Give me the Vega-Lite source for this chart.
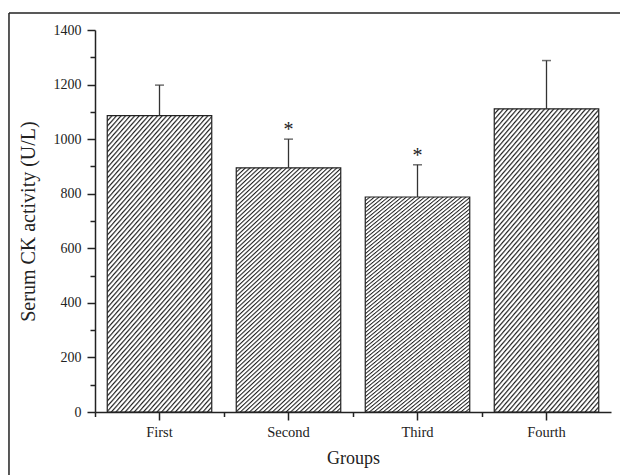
{
  "$schema": "https://vega.github.io/schema/vega-lite/v6.json",
  "width": 516,
  "height": 382,
  "autosize": {"type": "none"},
  "padding": {"left": 95, "top": 30, "right": 9, "bottom": 63},
  "background": "white",
  "config": {
    "view": {"stroke": null},
    "font": "Liberation Serif",
    "axis": {"zindex": 1, "grid": false, "labelFont": "Liberation Serif", "titleFont": "Liberation Serif", "titleFontWeight": "normal", "labelColor": "#222", "titleColor": "#222", "domainColor": "#222", "tickColor": "#222", "domainWidth": 1.5, "tickWidth": 1.5}
  },
  "layer": [
    {
      "data": {"values": [{}]},
      "layer": [
        {
          "mark": {"type": "rule", "color": "#222", "strokeWidth": 1.5},
          "encoding": {
            "x": {"datum": -0.1667, "type": "quantitative", "scale": {"domain": [0, 1], "nice": false, "zero": false}, "axis": null},
            "x2": {"datum": 1.3},
            "y": {"datum": 1.0445, "type": "quantitative", "scale": {"domain": [0, 1], "nice": false, "zero": false}, "axis": null}
          }
        },
        {
          "mark": {"type": "rule", "color": "#222", "strokeWidth": 1.5},
          "encoding": {
            "x": {"datum": -0.1667, "type": "quantitative", "scale": {"domain": [0, 1], "nice": false, "zero": false}, "axis": null},
            "y": {"datum": 1.0445, "type": "quantitative", "scale": {"domain": [0, 1], "nice": false, "zero": false}, "axis": null},
            "y2": {"datum": -0.4}
          }
        }
      ]
    },
    {
      "data": {"values": [
        {"group": "First", "mean": 1086, "upper": 1198, "sig": ""},
        {"group": "Second", "mean": 895, "upper": 1000, "sig": "*"},
        {"group": "Third", "mean": 788, "upper": 906, "sig": "*"},
        {"group": "Fourth", "mean": 1111, "upper": 1288, "sig": ""}
      ]},
      "layer": [
        {
          "mark": {
            "type": "bar",
            "width": {"band": 0.81},
            "stroke": "#222",
            "strokeWidth": 1.2,
            "fill": {
              "gradient": "linear", "x1": 0, "y1": 0, "x2": 0.483, "y2": 1.207,
              "stops": [
{"offset":0,"color":"#222"},{"offset":0.005,"color":"#fff"},{"offset":0.009,"color":"#fff"},{"offset":0.0125,"color":"#222"},{"offset":0.0175,"color":"#fff"},{"offset":0.0215,"color":"#fff"},{"offset":0.025,"color":"#222"},{"offset":0.03,"color":"#fff"},{"offset":0.034,"color":"#fff"},{"offset":0.0375,"color":"#222"},{"offset":0.0425,"color":"#fff"},{"offset":0.0465,"color":"#fff"},{"offset":0.05,"color":"#222"},{"offset":0.055,"color":"#fff"},{"offset":0.059,"color":"#fff"},{"offset":0.0625,"color":"#222"},{"offset":0.0675,"color":"#fff"},{"offset":0.0715,"color":"#fff"},{"offset":0.075,"color":"#222"},{"offset":0.08,"color":"#fff"},{"offset":0.084,"color":"#fff"},{"offset":0.0875,"color":"#222"},{"offset":0.0925,"color":"#fff"},{"offset":0.0965,"color":"#fff"},
{"offset":0.1,"color":"#222"},{"offset":0.105,"color":"#fff"},{"offset":0.109,"color":"#fff"},{"offset":0.1125,"color":"#222"},{"offset":0.1175,"color":"#fff"},{"offset":0.1215,"color":"#fff"},{"offset":0.125,"color":"#222"},{"offset":0.13,"color":"#fff"},{"offset":0.134,"color":"#fff"},{"offset":0.1375,"color":"#222"},{"offset":0.1425,"color":"#fff"},{"offset":0.1465,"color":"#fff"},{"offset":0.15,"color":"#222"},{"offset":0.155,"color":"#fff"},{"offset":0.159,"color":"#fff"},{"offset":0.1625,"color":"#222"},{"offset":0.1675,"color":"#fff"},{"offset":0.1715,"color":"#fff"},{"offset":0.175,"color":"#222"},{"offset":0.18,"color":"#fff"},{"offset":0.184,"color":"#fff"},{"offset":0.1875,"color":"#222"},{"offset":0.1925,"color":"#fff"},{"offset":0.1965,"color":"#fff"},
{"offset":0.2,"color":"#222"},{"offset":0.205,"color":"#fff"},{"offset":0.209,"color":"#fff"},{"offset":0.2125,"color":"#222"},{"offset":0.2175,"color":"#fff"},{"offset":0.2215,"color":"#fff"},{"offset":0.225,"color":"#222"},{"offset":0.23,"color":"#fff"},{"offset":0.234,"color":"#fff"},{"offset":0.2375,"color":"#222"},{"offset":0.2425,"color":"#fff"},{"offset":0.2465,"color":"#fff"},{"offset":0.25,"color":"#222"},{"offset":0.255,"color":"#fff"},{"offset":0.259,"color":"#fff"},{"offset":0.2625,"color":"#222"},{"offset":0.2675,"color":"#fff"},{"offset":0.2715,"color":"#fff"},{"offset":0.275,"color":"#222"},{"offset":0.28,"color":"#fff"},{"offset":0.284,"color":"#fff"},{"offset":0.2875,"color":"#222"},{"offset":0.2925,"color":"#fff"},{"offset":0.2965,"color":"#fff"},
{"offset":0.3,"color":"#222"},{"offset":0.305,"color":"#fff"},{"offset":0.309,"color":"#fff"},{"offset":0.3125,"color":"#222"},{"offset":0.3175,"color":"#fff"},{"offset":0.3215,"color":"#fff"},{"offset":0.325,"color":"#222"},{"offset":0.33,"color":"#fff"},{"offset":0.334,"color":"#fff"},{"offset":0.3375,"color":"#222"},{"offset":0.3425,"color":"#fff"},{"offset":0.3465,"color":"#fff"},{"offset":0.35,"color":"#222"},{"offset":0.355,"color":"#fff"},{"offset":0.359,"color":"#fff"},{"offset":0.3625,"color":"#222"},{"offset":0.3675,"color":"#fff"},{"offset":0.3715,"color":"#fff"},{"offset":0.375,"color":"#222"},{"offset":0.38,"color":"#fff"},{"offset":0.384,"color":"#fff"},{"offset":0.3875,"color":"#222"},{"offset":0.3925,"color":"#fff"},{"offset":0.3965,"color":"#fff"},
{"offset":0.4,"color":"#222"},{"offset":0.405,"color":"#fff"},{"offset":0.409,"color":"#fff"},{"offset":0.4125,"color":"#222"},{"offset":0.4175,"color":"#fff"},{"offset":0.4215,"color":"#fff"},{"offset":0.425,"color":"#222"},{"offset":0.43,"color":"#fff"},{"offset":0.434,"color":"#fff"},{"offset":0.4375,"color":"#222"},{"offset":0.4425,"color":"#fff"},{"offset":0.4465,"color":"#fff"},{"offset":0.45,"color":"#222"},{"offset":0.455,"color":"#fff"},{"offset":0.459,"color":"#fff"},{"offset":0.4625,"color":"#222"},{"offset":0.4675,"color":"#fff"},{"offset":0.4715,"color":"#fff"},{"offset":0.475,"color":"#222"},{"offset":0.48,"color":"#fff"},{"offset":0.484,"color":"#fff"},{"offset":0.4875,"color":"#222"},{"offset":0.4925,"color":"#fff"},{"offset":0.4965,"color":"#fff"},
{"offset":0.5,"color":"#222"},{"offset":0.505,"color":"#fff"},{"offset":0.509,"color":"#fff"},{"offset":0.5125,"color":"#222"},{"offset":0.5175,"color":"#fff"},{"offset":0.5215,"color":"#fff"},{"offset":0.525,"color":"#222"},{"offset":0.53,"color":"#fff"},{"offset":0.534,"color":"#fff"},{"offset":0.5375,"color":"#222"},{"offset":0.5425,"color":"#fff"},{"offset":0.5465,"color":"#fff"},{"offset":0.55,"color":"#222"},{"offset":0.555,"color":"#fff"},{"offset":0.559,"color":"#fff"},{"offset":0.5625,"color":"#222"},{"offset":0.5675,"color":"#fff"},{"offset":0.5715,"color":"#fff"},{"offset":0.575,"color":"#222"},{"offset":0.58,"color":"#fff"},{"offset":0.584,"color":"#fff"},{"offset":0.5875,"color":"#222"},{"offset":0.5925,"color":"#fff"},{"offset":0.5965,"color":"#fff"},
{"offset":0.6,"color":"#222"},{"offset":0.605,"color":"#fff"},{"offset":0.609,"color":"#fff"},{"offset":0.6125,"color":"#222"},{"offset":0.6175,"color":"#fff"},{"offset":0.6215,"color":"#fff"},{"offset":0.625,"color":"#222"},{"offset":0.63,"color":"#fff"},{"offset":0.634,"color":"#fff"},{"offset":0.6375,"color":"#222"},{"offset":0.6425,"color":"#fff"},{"offset":0.6465,"color":"#fff"},{"offset":0.65,"color":"#222"},{"offset":0.655,"color":"#fff"},{"offset":0.659,"color":"#fff"},{"offset":0.6625,"color":"#222"},{"offset":0.6675,"color":"#fff"},{"offset":0.6715,"color":"#fff"},{"offset":0.675,"color":"#222"},{"offset":0.68,"color":"#fff"},{"offset":0.684,"color":"#fff"},{"offset":0.6875,"color":"#222"},{"offset":0.6925,"color":"#fff"},{"offset":0.6965,"color":"#fff"},
{"offset":0.7,"color":"#222"},{"offset":0.705,"color":"#fff"},{"offset":0.709,"color":"#fff"},{"offset":0.7125,"color":"#222"},{"offset":0.7175,"color":"#fff"},{"offset":0.7215,"color":"#fff"},{"offset":0.725,"color":"#222"},{"offset":0.73,"color":"#fff"},{"offset":0.734,"color":"#fff"},{"offset":0.7375,"color":"#222"},{"offset":0.7425,"color":"#fff"},{"offset":0.7465,"color":"#fff"},{"offset":0.75,"color":"#222"},{"offset":0.755,"color":"#fff"},{"offset":0.759,"color":"#fff"},{"offset":0.7625,"color":"#222"},{"offset":0.7675,"color":"#fff"},{"offset":0.7715,"color":"#fff"},{"offset":0.775,"color":"#222"},{"offset":0.78,"color":"#fff"},{"offset":0.784,"color":"#fff"},{"offset":0.7875,"color":"#222"},{"offset":0.7925,"color":"#fff"},{"offset":0.7965,"color":"#fff"},
{"offset":0.8,"color":"#222"},{"offset":0.805,"color":"#fff"},{"offset":0.809,"color":"#fff"},{"offset":0.8125,"color":"#222"},{"offset":0.8175,"color":"#fff"},{"offset":0.8215,"color":"#fff"},{"offset":0.825,"color":"#222"},{"offset":0.83,"color":"#fff"},{"offset":0.834,"color":"#fff"},{"offset":0.8375,"color":"#222"},{"offset":0.8425,"color":"#fff"},{"offset":0.8465,"color":"#fff"},{"offset":0.85,"color":"#222"},{"offset":0.855,"color":"#fff"},{"offset":0.859,"color":"#fff"},{"offset":0.8625,"color":"#222"},{"offset":0.8675,"color":"#fff"},{"offset":0.8715,"color":"#fff"},{"offset":0.875,"color":"#222"},{"offset":0.88,"color":"#fff"},{"offset":0.884,"color":"#fff"},{"offset":0.8875,"color":"#222"},{"offset":0.8925,"color":"#fff"},{"offset":0.8965,"color":"#fff"},
{"offset":0.9,"color":"#222"},{"offset":0.905,"color":"#fff"},{"offset":0.909,"color":"#fff"},{"offset":0.9125,"color":"#222"},{"offset":0.9175,"color":"#fff"},{"offset":0.9215,"color":"#fff"},{"offset":0.925,"color":"#222"},{"offset":0.93,"color":"#fff"},{"offset":0.934,"color":"#fff"},{"offset":0.9375,"color":"#222"},{"offset":0.9425,"color":"#fff"},{"offset":0.9465,"color":"#fff"},{"offset":0.95,"color":"#222"},{"offset":0.955,"color":"#fff"},{"offset":0.959,"color":"#fff"},{"offset":0.9625,"color":"#222"},{"offset":0.9675,"color":"#fff"},{"offset":0.9715,"color":"#fff"},{"offset":0.975,"color":"#222"},{"offset":0.98,"color":"#fff"},{"offset":0.984,"color":"#fff"},{"offset":0.9875,"color":"#222"},{"offset":0.9925,"color":"#fff"},{"offset":0.9965,"color":"#fff"},
{"offset":1,"color":"#222"}
              ]
            }
          },
          "encoding": {
            "x": {"field": "group", "type": "nominal", "scale": {"domain": ["First", "Second", "Third", "Fourth"], "paddingInner": 0, "paddingOuter": 0},
              "axis": {"orient": "bottom", "zindex": 1, "title": "Groups", "labelAngle": 0, "labelFontSize": 14.5, "titleFontSize": 18, "tickSize": 8, "labelPadding": 5, "titlePadding": 11}},
            "y": {"field": "mean", "type": "quantitative", "scale": {"domain": [0, 1400], "nice": false},
              "axis": {"orient": "left", "zindex": 1, "title": "Serum CK activity (U/L)", "format": "d", "values": [0, 200, 400, 600, 800, 1000, 1200, 1400], "labelFontSize": 14, "titleFontSize": 20, "tickSize": 8, "labelPadding": 6, "titlePadding": 15}}
          }
        },
        {
          "mark": {"type": "rule", "color": "#333", "strokeWidth": 1.3},
          "encoding": {
            "x": {"field": "group", "type": "nominal", "scale": {"domain": ["First", "Second", "Third", "Fourth"], "paddingInner": 0, "paddingOuter": 0},
              "axis": {"orient": "bottom", "zindex": 1, "bandPosition": 0, "labels": false, "title": null, "domain": false, "tickSize": 4.5}},
            "y": {"field": "mean", "type": "quantitative", "scale": {"domain": [0, 1400], "nice": false},
              "axis": {"orient": "left", "zindex": 1, "values": [100, 300, 500, 700, 900, 1100, 1300], "labels": false, "title": null, "domain": false, "tickSize": 5}},
            "y2": {"field": "upper"}
          }
        },
        {
          "mark": {"type": "tick", "size": 9, "thickness": 1.5, "color": "#333"},
          "encoding": {
            "x": {"field": "group", "type": "nominal", "scale": {"domain": ["First", "Second", "Third", "Fourth"], "paddingInner": 0, "paddingOuter": 0}, "axis": null},
            "y": {"field": "upper", "type": "quantitative", "scale": {"domain": [0, 1400], "nice": false}, "axis": null}
          }
        },
        {
          "mark": {"type": "text", "fontSize": 20, "baseline": "alphabetic", "dy": -3, "color": "#222", "font": "Liberation Serif"},
          "encoding": {
            "x": {"field": "group", "type": "nominal", "scale": {"domain": ["First", "Second", "Third", "Fourth"], "paddingInner": 0, "paddingOuter": 0}, "axis": null},
            "y": {"field": "upper", "type": "quantitative", "scale": {"domain": [0, 1400], "nice": false}, "axis": null},
            "text": {"field": "sig"}
          }
        }
      ],
      "resolve": {"axis": {"x": "independent", "y": "independent"}}
    }
  ],
  "resolve": {"scale": {"x": "independent", "y": "independent"}}
}
